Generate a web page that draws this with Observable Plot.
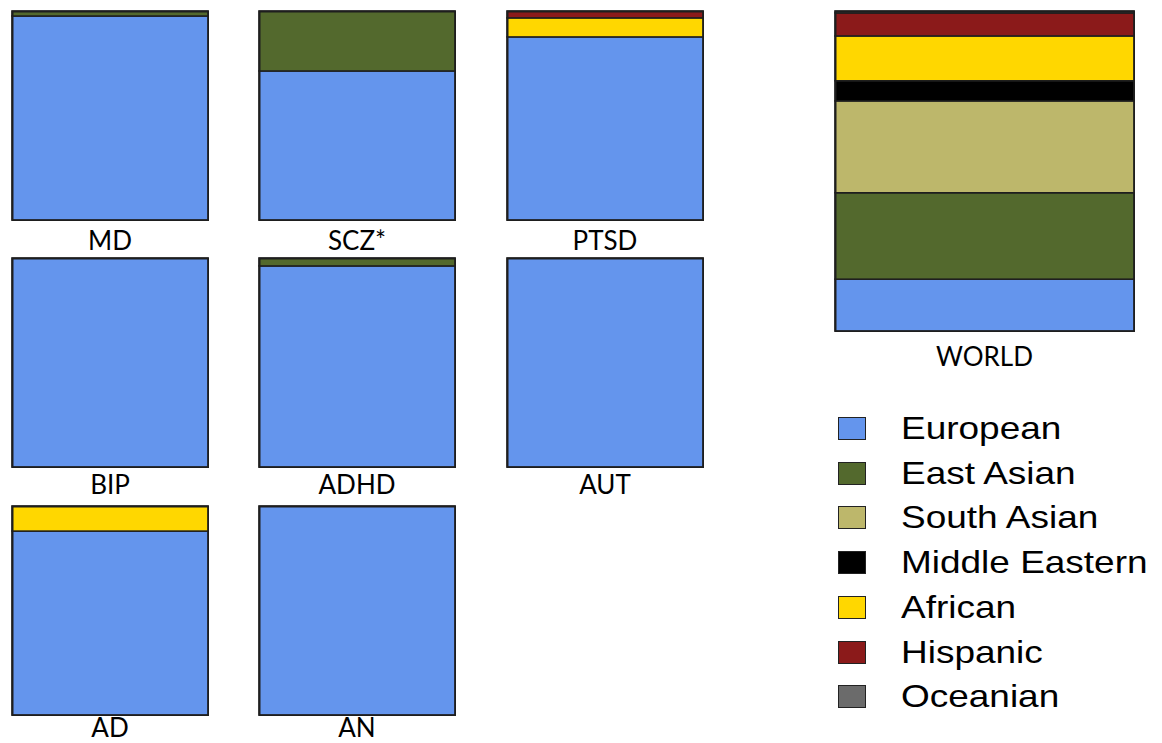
<!DOCTYPE html>
<html><head><meta charset="utf-8">
<script src="https://cdn.jsdelivr.net/npm/d3@7"></script>
<script src="https://cdn.jsdelivr.net/npm/@observablehq/plot@0.6"></script>
<style>
body{margin:0;background:#fff;}
#chart{position:relative;width:1162px;height:743px;overflow:hidden;}
.panel{position:absolute;}
.lab{position:absolute;font-family:Lato,"Open Sans",sans-serif;font-size:26px;color:#000;text-align:center;line-height:26px;height:26px;}
.leg{position:absolute;font-family:"Liberation Sans",Arial,sans-serif;font-size:32px;color:#000;line-height:40px;white-space:nowrap;transform:scaleX(1.155);transform-origin:left center;}
.sw{position:absolute;box-sizing:border-box;border:1.5px solid #222;}
</style></head><body><div id="chart"></div>
<script>
const groups = ["European","East Asian","South Asian","Middle Eastern","African","Hispanic","Oceanian"];
const colors = ["#6495ED","#53692D","#BDB76B","#000000","#FFD700","#8B1A1A","#6B6B6B"];
const disorders = ["MD","SCZ*","PTSD","BIP","ADHD","AUT","AD","AN"];
const MD   = [97.6, 2.4, 0, 0, 0, 0, 0];
const SCZ  = [71.3, 28.7, 0, 0, 0, 0, 0];
const PTSD = [87.6, 0, 0, 0, 9.1, 3.3, 0];
const BIP  = [100, 0, 0, 0, 0, 0, 0];
const ADHD = [96.2, 3.8, 0, 0, 0, 0, 0];
const AUT  = [100, 0, 0, 0, 0, 0, 0];
const AD   = [88, 0, 0, 0, 12, 0, 0];
const AN   = [100, 0, 0, 0, 0, 0, 0];
const WORLD = [16.2, 27.0, 28.7, 6.3, 14.0, 7.2, 0.6];
const disorderValues = [MD, SCZ, PTSD, BIP, ADHD, AUT, AD, AN];

const chart = document.getElementById("chart");

function panel(name, values, left, top, w, h) {
  const rows = groups.map((g, i) => ({panel: name, group: g, value: values[i]})).filter(d => d.value > 0);
  const svg = Plot.plot({
    width: w + 2, height: h + 2, margin: 1,
    x: {axis: null, padding: 0},
    y: {axis: null, domain: [0, 100]},
    color: {domain: groups, range: colors},
    marks: [
      Plot.barY(rows, {x: "panel", y: "value", fill: "group", stroke: "#1e1e1e", strokeWidth: 1.5, order: groups}),
      Plot.frame({stroke: "#1e1e1e", strokeWidth: 2})
    ]
  });
  const div = document.createElement("div");
  div.className = "panel";
  div.style.left = (left - 1) + "px";
  div.style.top = (top - 1) + "px";
  div.appendChild(svg);
  chart.appendChild(div);
}
function label(text, cx, cy, w) {
  const d = document.createElement("div");
  d.className = "lab";
  d.textContent = text;
  d.style.left = (cx - w / 2) + "px";
  d.style.width = w + "px";
  d.style.top = (cy - 13) + "px";
  chart.appendChild(d);
}

const colLefts = [12, 259, 507];
const rowTops = [11, 258, 506];
const labelCenters = [240, 484, 727];
const pw = 196, ph = 209;
disorders.forEach((name, i) => {
  const c = i % 3, r = Math.floor(i / 3);
  panel(name, disorderValues[i], colLefts[c], rowTops[r], pw, ph);
  label(name, colLefts[c] + pw / 2, labelCenters[r], 200);
});

panel("WORLD", WORLD, 835, 11, 299, 320);
label("WORLD", 835 + 299 / 2, 356, 200);

// legend
const legTop = 428, legStep = 44.7;
groups.forEach((g, i) => {
  const cy = legTop + i * legStep;
  const s = document.createElement("div");
  s.className = "sw";
  s.style.left = "838px";
  s.style.top = (cy - 11) + "px";
  s.style.width = "28px";
  s.style.height = "23px";
  s.style.background = colors[i];
  chart.appendChild(s);
  const t = document.createElement("div");
  t.className = "leg";
  t.textContent = g;
  t.style.left = "901px";
  t.style.top = (cy - 20) + "px";
  chart.appendChild(t);
});
</script></body></html>
